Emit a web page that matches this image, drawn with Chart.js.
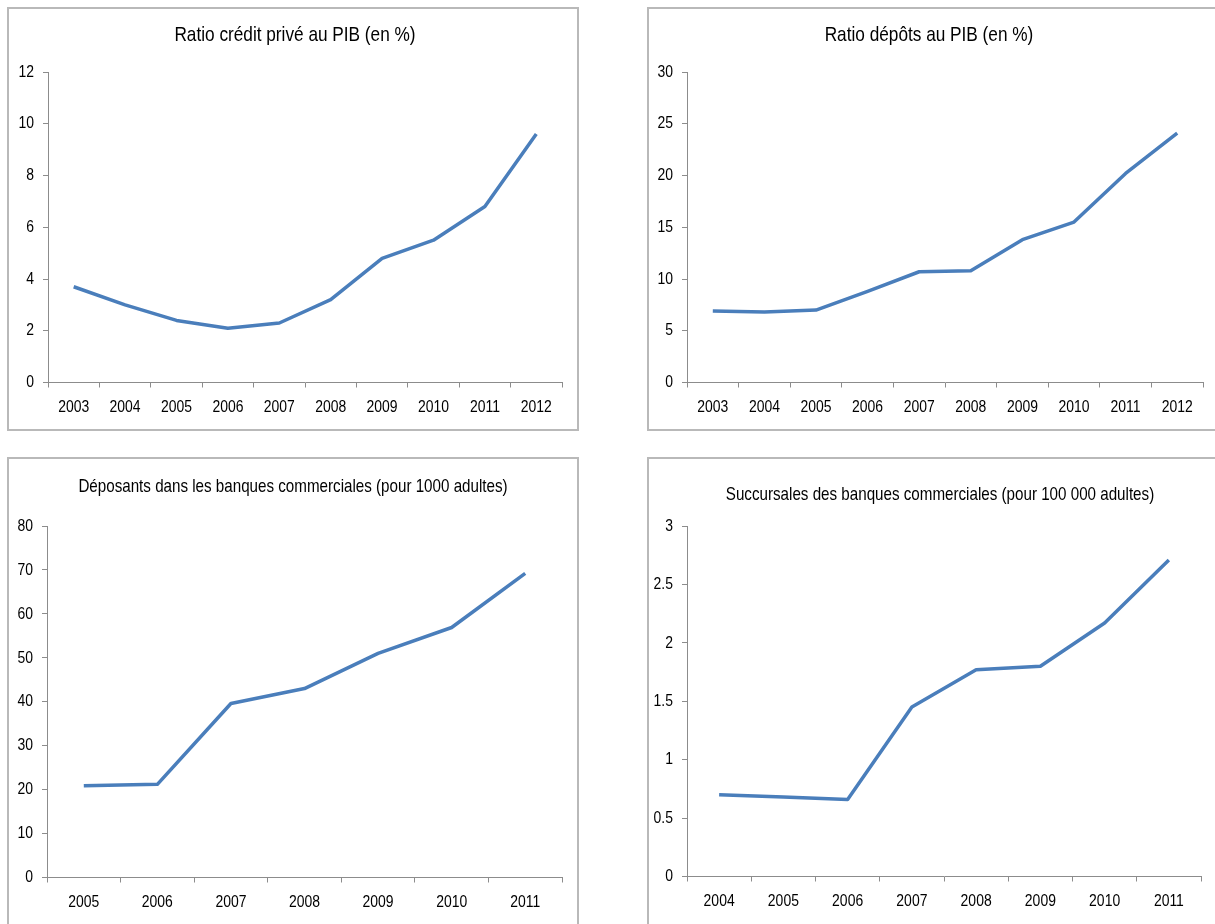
<!DOCTYPE html>
<html lang="fr">
<head>
<meta charset="utf-8">
<title>Indicateurs bancaires</title>
<script src="https://cdn.jsdelivr.net/npm/chart.js@4.4.1/dist/chart.umd.min.js"></script>
<style>
  html, body { margin: 0; padding: 0; background: #ffffff; }
  body { width: 1215px; height: 924px; position: relative; overflow: hidden; }
  .frame { position: absolute; border: 2px solid #b9b9b9; box-sizing: border-box; }
  .panel { position: absolute; }
</style>
</head>
<body>
<div class="frame" style="left:7px;top:7px;width:572px;height:424px;"></div>
<div class="frame" style="left:647px;top:7px;width:600px;height:424px;"></div>
<div class="frame" style="left:7px;top:457px;width:572px;height:500px;"></div>
<div class="frame" style="left:647px;top:457px;width:600px;height:500px;"></div>

<div class="panel" style="left:7px;top:7px;width:572px;height:423px;"><canvas id="c1"></canvas></div>
<div class="panel" style="left:647px;top:7px;width:568px;height:423px;"><canvas id="c2"></canvas></div>
<div class="panel" style="left:7px;top:457px;width:572px;height:467px;"><canvas id="c3"></canvas></div>
<div class="panel" style="left:647px;top:457px;width:568px;height:467px;"><canvas id="c4"></canvas></div>

<script>
// Années
const years2003to2012 = ['2003', '2004', '2005', '2006', '2007', '2008', '2009', '2010', '2011', '2012'];
const years2005to2011 = ['2005', '2006', '2007', '2008', '2009', '2010', '2011'];
const years2004to2011 = ['2004', '2005', '2006', '2007', '2008', '2009', '2010', '2011'];

// Ratio crédit privé au PIB (en %)
const creditPrivePIB = [3.7, 3.0, 2.4, 2.1, 2.3, 3.2, 4.8, 5.5, 6.8, 9.6];
// Ratio dépôts au PIB (en %)
const depotsPIB = [6.9, 6.8, 7.0, 8.8, 10.7, 10.8, 13.8, 15.5, 20.2, 24.1];
// Déposants dans les banques commerciales (pour 1000 adultes)
const deposants = [20.9, 21.2, 39.6, 43.0, 51.0, 56.9, 69.2];
// Succursales des banques commerciales (pour 100 000 adultes)
const succursales = [0.70, 0.68, 0.66, 1.45, 1.77, 1.80, 2.17, 2.71];

const titles = [
  'Ratio crédit privé au PIB (en %)',
  'Ratio dépôts au PIB (en %)',
  'Déposants dans les banques commerciales (pour 1000 adultes)',
  'Succursales des banques commerciales (pour 100 000 adultes)'
];

const FONT = '"Liberation Sans", Arial, sans-serif';
const NARROW = 0.82;          // horizontal squeeze applied to every label
const LINE_BLUE = '#4a7ebb';
const AXIS_GREY = '#8c8c8c';

// Condensed lettering: every fillText is squeezed horizontally about its anchor
const narrowText = {
  id: 'narrowText',
  beforeInit(chart) {
    const ctx = chart.ctx;
    const fill = ctx.fillText.bind(ctx);
    ctx.fillText = function (text, x, y, maxWidth) {
      ctx.save();
      ctx.translate(x, y);
      ctx.scale(NARROW, 1);
      if (maxWidth === undefined) fill(text, 0, 0);
      else fill(text, 0, 0, maxWidth / NARROW);
      ctx.restore();
    };
  }
};

// Draws the panel heading at a fixed spot above the plot area
const panelTitle = {
  id: 'panelTitle',
  afterDraw(chart, args, opts) {
    const ctx = chart.ctx;
    ctx.save();
    ctx.font = opts.size + 'px ' + FONT;
    ctx.fillStyle = '#000000';
    ctx.textAlign = 'center';
    ctx.textBaseline = 'middle';
    ctx.fillText(opts.text, opts.x, opts.y);
    ctx.restore();
  }
};

function makeLineChart(id, labels, values, yMax, yStep, g) {
  return new Chart(document.getElementById(id), {
    type: 'line',
    data: {
      labels: labels,
      datasets: [{
        data: values,
        borderColor: LINE_BLUE,
        backgroundColor: LINE_BLUE,
        borderWidth: 3.5,
        pointRadius: 0,
        pointHoverRadius: 0,
        tension: 0,
        fill: false,
        borderCapStyle: 'butt',
        borderJoinStyle: 'round'
      }]
    },
    options: {
      responsive: true,
      maintainAspectRatio: false,
      animation: false,
      locale: 'en-US',
      events: [],
      layout: { padding: { top: g.padTop, right: g.padRight, bottom: 0, left: 0 } },
      plugins: {
        legend: { display: false },
        tooltip: { enabled: false },
        title: { display: false },
        panelTitle: { text: g.title, x: g.titleX, y: g.titleY, size: g.titleSize }
      },
      scales: {
        x: {
          type: 'category',
          offset: true,
          grid: {
            offset: true,
            drawOnChartArea: false,
            drawTicks: true,
            tickLength: 5,
            color: AXIS_GREY,
            lineWidth: 1
          },
          border: { display: true, color: AXIS_GREY, width: 1 },
          ticks: {
            color: '#000000',
            padding: 10,
            maxRotation: 0,
            minRotation: 0,
            autoSkip: false,
            font: { family: FONT, size: 17 }
          },
          afterFit(scale) { scale.height = g.xHeight; }
        },
        y: {
          min: 0,
          max: yMax,
          grid: {
            drawOnChartArea: false,
            drawTicks: true,
            tickLength: 5,
            color: AXIS_GREY,
            lineWidth: 1
          },
          border: { display: true, color: AXIS_GREY, width: 1 },
          ticks: {
            stepSize: yStep,
            color: '#000000',
            padding: 9,
            font: { family: FONT, size: 17 },
            callback: (v) => String(Number(v.toFixed(2)))
          },
          afterFit(scale) { scale.width = g.yWidth; }
        }
      }
    },
    plugins: [narrowText, panelTitle]
  });
}

makeLineChart('c1', years2003to2012, creditPrivePIB, 12, 2,
  { title: titles[0], titleX: 288, titleY: 28, titleSize: 21, padTop: 65, padRight: 17, yWidth: 41, xHeight: 47.5 });
makeLineChart('c2', years2003to2012, depotsPIB, 30, 5,
  { title: titles[1], titleX: 282, titleY: 28, titleSize: 21, padTop: 65, padRight: 12, yWidth: 40, xHeight: 47.5 });
makeLineChart('c3', years2005to2011, deposants, 80, 10,
  { title: titles[2], titleX: 286, titleY: 30, titleSize: 18.5, padTop: 69, padRight: 17, yWidth: 40, xHeight: 46.5 });
makeLineChart('c4', years2004to2011, succursales, 3, 0.5,
  { title: titles[3], titleX: 293, titleY: 38, titleSize: 18.5, padTop: 69, padRight: 14, yWidth: 40, xHeight: 47.5 });
</script>
</body>
</html>
